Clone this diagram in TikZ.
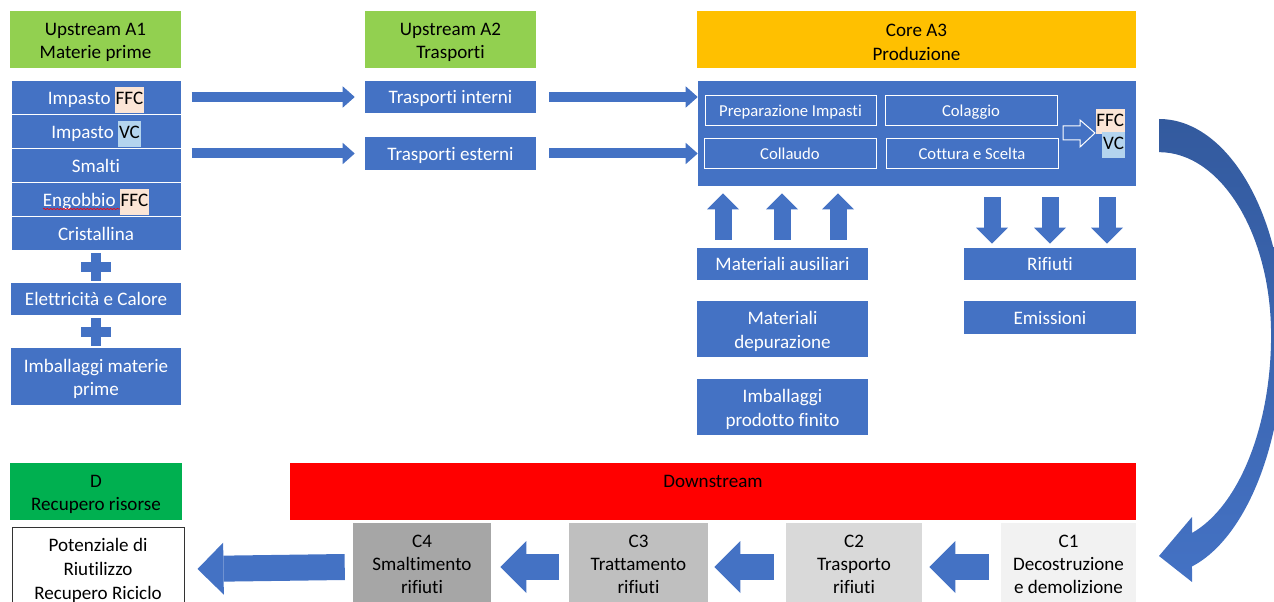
\documentclass[tikz,border=0pt]{standalone}
\usepackage{fontspec}
\setmainfont{Carlito}[Ligatures=NoCommon]
\usepackage{xcolor}
\usepackage{tikz}
\usetikzlibrary{calc,positioning,arrows.meta,decorations.pathmorphing}

\definecolor{boxblue}{HTML}{4472C4}
\definecolor{arcdark}{HTML}{335A9E}
\definecolor{upgreen}{HTML}{92D050}
\definecolor{coreorange}{HTML}{FFC000}
\definecolor{dgreen}{HTML}{00B050}
\definecolor{ffcpeach}{HTML}{FBE5D6}
\definecolor{vcblue}{HTML}{B4D4EE}
\definecolor{cfour}{HTML}{A6A6A6}
\definecolor{cthree}{HTML}{BFBFBF}
\definecolor{ctwo}{HTML}{D9D9D9}
\definecolor{cone}{HTML}{F2F2F2}

\newcommand{\hlt}[2]{{\setlength{\fboxsep}{0.6pt}\colorbox{#1}{\strut\textcolor{black}{#2}}}}
\newcommand{\lift}{\rule{0pt}{13.5pt}}

\tikzset{
	base/.style={rectangle,inner sep=0pt,align=center,font=\fontsize{14.3}{17.6}\selectfont},
	oneline/.style={text height=10.5pt,text depth=0.5pt},
	header/.style={base,text=black,minimum height=42.75pt},
	bluebox/.style={base,fill=boxblue,text=white},
	listbox/.style={bluebox,oneline,draw=white,line width=0.75pt,minimum width=127.5pt,minimum height=25.5pt},
	stepbox/.style={base,draw=white,line width=0.75pt,text=white,minimum height=22.5pt,text height=9.2pt,text depth=0.4pt,font=\fontsize{12.5}{15}\selectfont},
	cbox/.style={base,text=black,minimum height=62.25pt,font=\fontsize{14.3}{17.25}\selectfont},
	flowarrow/.style={boxblue,line width=7.5pt,-{Triangle[length=9pt,width=16pt,line width=0pt]}},
	vertarrow/.style={boxblue,line width=12.75pt,-{Triangle[length=12pt,width=24pt,line width=0pt]}},
	backarrow/.style={boxblue,line width=19.5pt,-{Triangle[length=19.5pt,width=39pt,line width=0pt]}},
	plus/.pic={
		\fill[boxblue] (-15,-5) rectangle (15,5);
		\fill[boxblue] (-5,-14) rectangle (5,14);
	}
}

\begin{document}
\begin{tikzpicture}[x=0.75pt,y=-0.75pt]
	\useasboundingbox (0,0) rectangle (1274,602);
	\clip (0,0) rectangle (1274,602);

	% upstream A1
	\node[header,fill=upgreen,minimum width=128.25pt] (a1head) at (95.5,39.5) {\lift Upstream A1\\Materie prime};
	\node[listbox] (a1ffc) at (96,98) {Impasto \hlt{ffcpeach}{FFC}};
	\node[listbox] (a1vc) at (96,132) {Impasto \hlt{vcblue}{VC}};
	\node[listbox] (a1sma) at (96,166) {Smalti};
	\node[listbox] (a1eng) at (96,200) {Engobbio \hlt{ffcpeach}{FFC}};
	\node[listbox] (a1cri) at (96,234) {Cristallina};
	\node[bluebox,oneline,minimum width=127.5pt,minimum height=24pt] (a1ele) at (96,299) {Elettricità e Calore};
	\node[bluebox,minimum width=127.5pt,minimum height=42.75pt] (a1imb) at (96,376.5) {\lift Imballaggi materie\\prime};
	\pic at ($(a1cri.south)!0.5!(a1ele.north)$) {plus};
	\pic at ($(a1ele.south)!0.5!(a1imb.north)$) {plus};
	\draw[red,line width=0.5pt,decorate,decoration={snake,amplitude=0.5pt,segment length=2.5pt}] ($(a1eng.center)+(-53,9)$) -- ($(a1eng.center)+(24,9)$);

	% upstream A2
	\node[header,fill=upgreen,minimum width=128.25pt] (a2head) at (450.5,39.5) {\lift Upstream A2\\Trasporti};
	\node[bluebox,oneline,minimum width=128.25pt,minimum height=24pt] (a2int) at (450.5,97) {Trasporti interni};
	\node[bluebox,oneline,minimum width=128.25pt,minimum height=24.75pt] (a2est) at (450.5,153.5) {Trasporti esterni};
	\draw[flowarrow] ($(a1ffc.east |- a2int.west)+(10,0)$) -- ($(a2int.west)+(-10,0)$);
	\draw[flowarrow] ($(a1sma.east |- a2est.west)+(10,0)$) -- ($(a2est.west)+(-10,0)$);

	% core A3
	\node[header,fill=coreorange,minimum width=329.25pt] (a3head) at (916.5,39.5) {\lift Core A3\\Produzione};
	\node[bluebox,minimum width=328.5pt,minimum height=78.75pt] (core) at (917,133.5) {};
	\draw[flowarrow] ($(a2int.east)+(13,0)$) -- (a2int.east -| core.west);
	\draw[flowarrow] ($(a2est.east)+(13,0)$) -- (a2est.east -| core.west);
	\node[stepbox,minimum width=128.25pt] (prep) at (790.5,111) {Preparazione Impasti};
	\node[stepbox,minimum width=129pt] (cola) at (971,111) {Colaggio};
	\node[stepbox,minimum width=129pt] (coll) at (790,154) {Collaudo};
	\node[stepbox,minimum width=129pt] (cott) at (972,154) {Cottura e Scelta};
	\draw[white,line width=0.75pt,line join=miter] (1063,126) -- (1080,126) -- (1080,120) -- (1095,133) -- (1080,147) -- (1080,140) -- (1063,140) -- cycle;
	\node[base,anchor=east] (ffc) at (1125,121.5) {\hlt{ffcpeach}{FFC}};
	\node[base,anchor=east] (vc) at (1125,145) {\hlt{vcblue}{VC}};

	\node[bluebox,oneline,minimum width=128.25pt,minimum height=24pt] (matAus) at (782.5,264) {Materiali ausiliari};
	\node[bluebox,minimum width=128.25pt,minimum height=42pt] (matDep) at (782.5,329) {\lift Materiali\\depurazione};
	\node[bluebox,minimum width=128.25pt,minimum height=42pt] (imbPf) at (782.5,407) {\lift Imballaggi\\prodotto finito};
	\node[bluebox,oneline,minimum width=129pt,minimum height=24pt] (rif) at (1050,264) {Rifiuti};
	\node[bluebox,oneline,minimum width=129pt,minimum height=24.75pt] (emi) at (1050,317.5) {Emissioni};
	\foreach \ux in {723,782,838}
		\draw[vertarrow] ($(\ux,0 |- matAus.north)+(0,-8)$) -- ($(\ux,0 |- core.south)+(0,7)$);
	\foreach \dx in {992,1050,1107}
		\draw[vertarrow] ($(\dx,0 |- core.south)+(0,11)$) -- ($(\dx,0 |- rif.north)+(0,-4)$);

	% downstream
	\node[header,fill=dgreen,minimum width=129pt] (dhead) at (96,491.5) {\lift D\\Recupero risorse};
	\node[base,fill=white,draw=black!80,line width=0.75pt,text=black,minimum width=129pt,minimum height=61.5pt,font=\fontsize{14.3}{17.8}\selectfont] (pot) at (98,568) {\lift Potenziale di\\Riutilizzo\\Recupero Riciclo};
	\node[base,fill=red,minimum width=634.5pt,minimum height=42.75pt] (down) at (713,491.5) {};
	\node[base,oneline,text=black] (downlbl) at (713,481) {Downstream};
	\node[cbox,fill=cfour,minimum width=103.5pt] (c4) at (422,564.5) {C4\\Smaltimento\\rifiuti};
	\node[cbox,fill=cthree,minimum width=104.25pt] (c3) at (638.5,564.5) {C3\\Trattamento\\rifiuti};
	\node[cbox,fill=ctwo,minimum width=102pt] (c2) at (854,564.5) {C2\\Trasporto\\rifiuti};
	\node[cbox,fill=cone,minimum width=101.25pt] (c1) at (1068.5,564.5) {C1\\Decostruzione\\e demolizione};
	\draw[backarrow] ($(c1.west)+(-12,2.5)$) -- ($(c2.east)+(7,2.5)$);
	\draw[backarrow] ($(c2.west)+(-12,2.5)$) -- ($(c3.east)+(6,2.5)$);
	\draw[backarrow] ($(c3.west)+(-10,2.5)$) -- ($(c4.east)+(9,2.5)$);
	\draw[backarrow] ($(c4.west)+(-8,2.5)$) -- ($(pot.east)+(13,1)$);

	% return arc from core to C1
	\shade[top color=arcdark,bottom color=boxblue]
		(1159,119) arc[start angle=-90,end angle=0,x radius=125,y radius=216]
		arc[start angle=0,end angle=74.7,x radius=125,y radius=240]
		-- (1192,582) -- (1159,556) -- (1192,517) -- (1192,533)
		arc[start angle=72.9,end angle=0,x radius=112,y radius=207]
		arc[start angle=0,end angle=-90,x radius=112,y radius=183] -- cycle;
\end{tikzpicture}
\end{document}
